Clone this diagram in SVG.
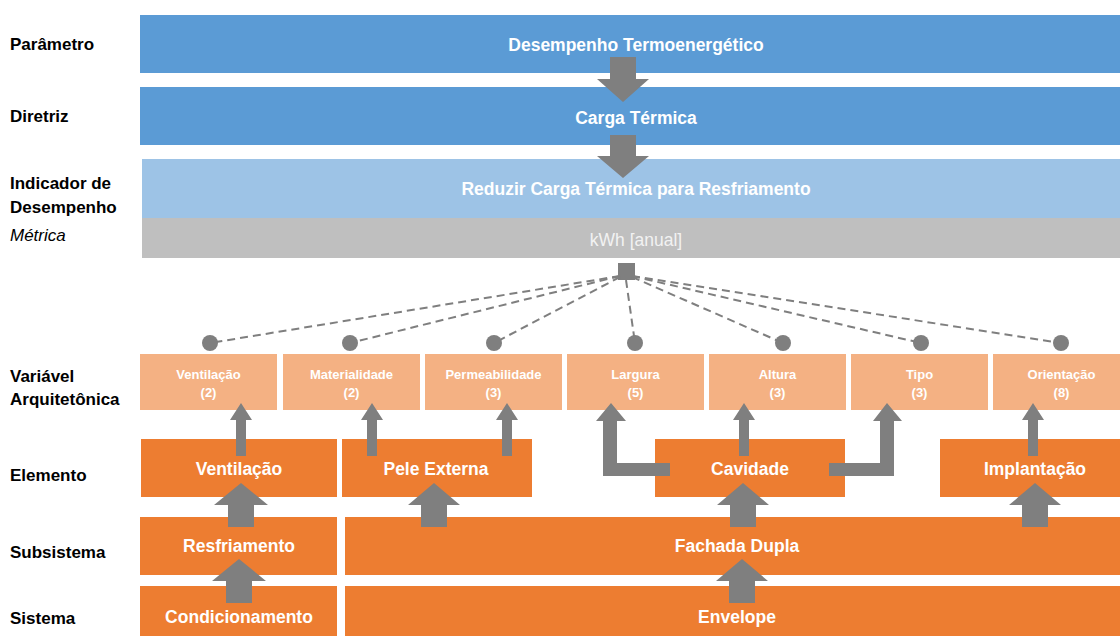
<svg xmlns="http://www.w3.org/2000/svg" width="1120" height="636" viewBox="0 0 1120 636">
<defs>
<style>
.lbl{font-family:"Liberation Sans",Arial,sans-serif;font-weight:bold;font-size:17px;fill:#000}
.met{font-family:"Liberation Sans",Arial,sans-serif;font-style:italic;font-size:17px;fill:#000}
.bt{font-family:"Liberation Sans",Arial,sans-serif;font-weight:bold;font-size:17.5px;fill:#fff;text-anchor:middle}
.vt{font-family:"Liberation Sans",Arial,sans-serif;font-weight:bold;font-size:13px;fill:#fff;text-anchor:middle}
.kt{font-family:"Liberation Sans",Arial,sans-serif;font-size:17.5px;fill:#f2f2f2;text-anchor:middle}
.blue{fill:#5b9bd5}
.lblue{fill:#9dc3e6}
.grey{fill:#bfbfbf}
.or{fill:#ed7d31}
.lor{fill:#f4b183}
.arr{fill:#7f7f7f}
.dash{stroke:#7f7f7f;stroke-width:2;stroke-dasharray:8 5;fill:none}
.dot{fill:#7f7f7f}
</style>
</defs>
<rect width="1120" height="636" fill="#fff"/>

<g id="labels">
<text class="lbl" x="10" y="50">Parâmetro</text>
<text class="lbl" x="10" y="122">Diretriz</text>
<text class="lbl" x="10" y="189">Indicador de</text>
<text class="lbl" x="10" y="213">Desempenho</text>
<text class="met" x="10" y="241">Métrica</text>
<text class="lbl" x="10" y="382">Variável</text>
<text class="lbl" x="10" y="405">Arquitetônica</text>
<text class="lbl" x="10" y="481">Elemento</text>
<text class="lbl" x="10" y="558">Subsistema</text>
<text class="lbl" x="10" y="624">Sistema</text>
</g>

<g id="parametro"><rect class="blue" x="140" y="15" width="980" height="58"/><text class="bt" x="636" y="51">Desempenho Termoenergético</text></g>
<g id="diretriz"><rect class="blue" x="140" y="87" width="980" height="58"/><text class="bt" x="636" y="124">Carga Térmica</text></g>
<g id="indicador"><rect class="lblue" x="142" y="159" width="978" height="59"/><text class="bt" x="636" y="195">Reduzir Carga Térmica para Resfriamento</text></g>
<g id="metrica"><rect class="grey" x="142" y="218" width="978" height="40"/><text class="kt" x="636" y="246">kWh [anual]</text></g>

<g id="var-ventilacao"><rect class="lor" x="140" y="354" width="137" height="56"/><text class="vt" x="208.5" y="379">Ventilação</text><text class="vt" x="208.5" y="397">(2)</text></g>
<g id="var-materialidade"><rect class="lor" x="283" y="354" width="137" height="56"/><text class="vt" x="351.5" y="379">Materialidade</text><text class="vt" x="351.5" y="397">(2)</text></g>
<g id="var-permeabilidade"><rect class="lor" x="425" y="354" width="137" height="56"/><text class="vt" x="493.5" y="379">Permeabilidade</text><text class="vt" x="493.5" y="397">(3)</text></g>
<g id="var-largura"><rect class="lor" x="567" y="354" width="137" height="56"/><text class="vt" x="635.5" y="379">Largura</text><text class="vt" x="635.5" y="397">(5)</text></g>
<g id="var-altura"><rect class="lor" x="709" y="354" width="137" height="56"/><text class="vt" x="777.5" y="379">Altura</text><text class="vt" x="777.5" y="397">(3)</text></g>
<g id="var-tipo"><rect class="lor" x="851" y="354" width="137" height="56"/><text class="vt" x="919.5" y="379">Tipo</text><text class="vt" x="919.5" y="397">(3)</text></g>
<g id="var-orientacao"><rect class="lor" x="993" y="354" width="127" height="56"/><text class="vt" x="1061.5" y="379">Orientação</text><text class="vt" x="1061.5" y="397">(8)</text></g>

<g id="el-ventilacao"><rect class="or" x="141" y="439" width="196" height="58"/><text class="bt" x="239" y="475">Ventilação</text></g>
<g id="el-pele"><rect class="or" x="342" y="439" width="190" height="58"/><text class="bt" x="436" y="475">Pele Externa</text></g>
<g id="el-cavidade"><rect class="or" x="655" y="439" width="190" height="58"/><text class="bt" x="750" y="475">Cavidade</text></g>
<g id="el-implantacao"><rect class="or" x="940" y="439" width="180" height="58"/><text class="bt" x="1035" y="475">Implantação</text></g>

<g id="sub-resfriamento"><rect class="or" x="140" y="517" width="197" height="58"/><text class="bt" x="239" y="552">Resfriamento</text></g>
<g id="sub-fachada"><rect class="or" x="345" y="517" width="775" height="58"/><text class="bt" x="737" y="552">Fachada Dupla</text></g>
<g id="sis-condicionamento"><rect class="or" x="140" y="586" width="197" height="50"/><text class="bt" x="239" y="623">Condicionamento</text></g>
<g id="sis-envelope"><rect class="or" x="345" y="586" width="775" height="50"/><text class="bt" x="737" y="623">Envelope</text></g>

<g id="hub"><rect class="dot" x="618" y="263" width="17" height="17"/></g>

<g id="connectors">
<line class="dash" x1="620" y1="276" x2="210" y2="343"/>
<line class="dash" x1="620" y1="276" x2="350" y2="343"/>
<line class="dash" x1="620" y1="277" x2="494" y2="343"/>
<line class="dash" x1="626" y1="280" x2="635" y2="343"/>
<line class="dash" x1="632" y1="277" x2="783" y2="343"/>
<line class="dash" x1="632" y1="276" x2="921" y2="343"/>
<line class="dash" x1="632" y1="276" x2="1061" y2="343"/>
<circle class="dot" cx="210" cy="343" r="8"/>
<circle class="dot" cx="350" cy="343" r="8"/>
<circle class="dot" cx="494" cy="343" r="8"/>
<circle class="dot" cx="635" cy="343" r="8"/>
<circle class="dot" cx="783" cy="343" r="8"/>
<circle class="dot" cx="921" cy="343" r="8"/>
<circle class="dot" cx="1061" cy="343" r="8"/>

<path class="arr" d="M610,57 H636 V79 H649 L623,102 L597,79 H610 Z"/>
<path class="arr" d="M610,135 H636 V156 H649 L623,178 L597,156 H610 Z"/>

<path class="arr" d="M236,456 V420 H230 L241,403 L252,420 H246 V456 Z"/>
<path class="arr" d="M367,456 V420 H361 L372,403 L383,420 H377 V456 Z"/>
<path class="arr" d="M502,456 V420 H496 L507,403 L518,420 H512 V456 Z"/>
<path class="arr" d="M739,456 V420 H733 L744,403 L755,420 H749 V456 Z"/>
<path class="arr" d="M1028,456 V420 H1022 L1033,403 L1044,420 H1038 V456 Z"/>

<path class="arr" d="M670,463 H617 V421 H626 L611,403 L596,421 H603 V476 H670 Z"/>
<path class="arr" d="M829,463 H880 V421 H873 L887,403 L902,421 H894 V476 H829 Z"/>

<path class="arr" d="M228,527 V505 H214 L241,483 L268,505 H254 V527 Z"/>
<path class="arr" d="M421,527 V505 H408 L434,483 L460,505 H447 V527 Z"/>
<path class="arr" d="M730,527 V505 H717 L743,483 L769,505 H756 V527 Z"/>
<path class="arr" d="M1022,527 V505 H1009 L1035,483 L1061,505 H1048 V527 Z"/>

<path class="arr" d="M226,603 V581 H212 L239,559 L266,581 H252 V603 Z"/>
<path class="arr" d="M729,603 V581 H716 L742,559 L768,581 H755 V603 Z"/>
</g>
</svg>
